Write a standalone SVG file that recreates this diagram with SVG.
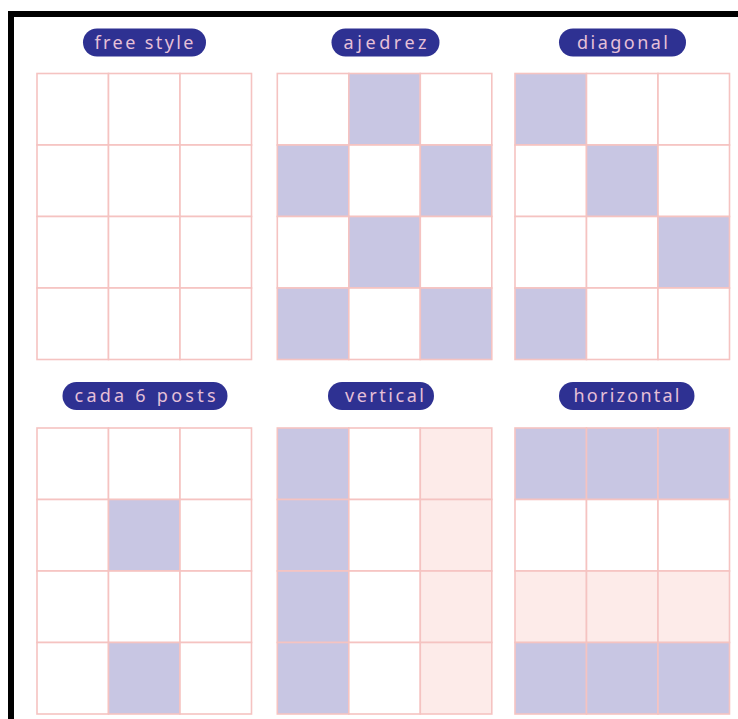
<svg xmlns="http://www.w3.org/2000/svg" width="738" height="719" viewBox="0 0 738 719">
<style>
.c{stroke:#f5c3c1;stroke-width:1.6}
.w{fill:#ffffff}
.l{fill:#c8c6e3}
.p{fill:#fdebe9}
.pill{fill:#2e3192}
.t{font-family:"Noto Sans","Open Sans",sans-serif;font-size:18px;fill:#e6c0d8;letter-spacing:1px}
</style>
<rect width="738" height="719" fill="#ffffff"/>
<g id="frame">
<rect x="8" y="11" width="730" height="6" fill="#000"/>
<rect x="8" y="11" width="6" height="708" fill="#000"/>
</g>
<g id="free-style">
<rect class="pill" x="83" y="28.5" width="123" height="28" rx="14"/>
<text class="t" x="144.5" y="48.5" text-anchor="middle" textLength="100" lengthAdjust="spacing">free style</text>
<g transform="translate(37,73.5)">
<rect class="c w" x="0" y="0" width="71.5" height="71.5"/><rect class="c w" x="71.5" y="0" width="71.5" height="71.5"/><rect class="c w" x="143" y="0" width="71.5" height="71.5"/>
<rect class="c w" x="0" y="71.5" width="71.5" height="71.5"/><rect class="c w" x="71.5" y="71.5" width="71.5" height="71.5"/><rect class="c w" x="143" y="71.5" width="71.5" height="71.5"/>
<rect class="c w" x="0" y="143" width="71.5" height="71.5"/><rect class="c w" x="71.5" y="143" width="71.5" height="71.5"/><rect class="c w" x="143" y="143" width="71.5" height="71.5"/>
<rect class="c w" x="0" y="214.5" width="71.5" height="71.5"/><rect class="c w" x="71.5" y="214.5" width="71.5" height="71.5"/><rect class="c w" x="143" y="214.5" width="71.5" height="71.5"/>
</g>
</g>
<g id="ajedrez">
<rect class="pill" x="331.5" y="28.5" width="108" height="28" rx="14"/>
<text class="t" x="385.5" y="48.5" text-anchor="middle" textLength="84" lengthAdjust="spacing">ajedrez</text>
<g transform="translate(277.3,73.5)">
<rect class="c w" x="0" y="0" width="71.5" height="71.5"/><rect class="c l" x="71.5" y="0" width="71.5" height="71.5"/><rect class="c w" x="143" y="0" width="71.5" height="71.5"/>
<rect class="c l" x="0" y="71.5" width="71.5" height="71.5"/><rect class="c w" x="71.5" y="71.5" width="71.5" height="71.5"/><rect class="c l" x="143" y="71.5" width="71.5" height="71.5"/>
<rect class="c w" x="0" y="143" width="71.5" height="71.5"/><rect class="c l" x="71.5" y="143" width="71.5" height="71.5"/><rect class="c w" x="143" y="143" width="71.5" height="71.5"/>
<rect class="c l" x="0" y="214.5" width="71.5" height="71.5"/><rect class="c w" x="71.5" y="214.5" width="71.5" height="71.5"/><rect class="c l" x="143" y="214.5" width="71.5" height="71.5"/>
</g>
</g>
<g id="diagonal">
<rect class="pill" x="559" y="28.5" width="127" height="28" rx="14"/>
<text class="t" x="623" y="48.5" text-anchor="middle" textLength="92" lengthAdjust="spacing">diagonal</text>
<g transform="translate(515,73.5)">
<rect class="c l" x="0" y="0" width="71.5" height="71.5"/><rect class="c w" x="71.5" y="0" width="71.5" height="71.5"/><rect class="c w" x="143" y="0" width="71.5" height="71.5"/>
<rect class="c w" x="0" y="71.5" width="71.5" height="71.5"/><rect class="c l" x="71.5" y="71.5" width="71.5" height="71.5"/><rect class="c w" x="143" y="71.5" width="71.5" height="71.5"/>
<rect class="c w" x="0" y="143" width="71.5" height="71.5"/><rect class="c w" x="71.5" y="143" width="71.5" height="71.5"/><rect class="c l" x="143" y="143" width="71.5" height="71.5"/>
<rect class="c l" x="0" y="214.5" width="71.5" height="71.5"/><rect class="c w" x="71.5" y="214.5" width="71.5" height="71.5"/><rect class="c w" x="143" y="214.5" width="71.5" height="71.5"/>
</g>
</g>
<g id="cada-6-posts">
<rect class="pill" x="62.5" y="382" width="165" height="28" rx="14"/>
<text class="t" x="145.5" y="402" text-anchor="middle" textLength="142" lengthAdjust="spacing">cada 6 posts</text>
<g transform="translate(37,428)">
<rect class="c w" x="0" y="0" width="71.5" height="71.5"/><rect class="c w" x="71.5" y="0" width="71.5" height="71.5"/><rect class="c w" x="143" y="0" width="71.5" height="71.5"/>
<rect class="c w" x="0" y="71.5" width="71.5" height="71.5"/><rect class="c l" x="71.5" y="71.5" width="71.5" height="71.5"/><rect class="c w" x="143" y="71.5" width="71.5" height="71.5"/>
<rect class="c w" x="0" y="143" width="71.5" height="71.5"/><rect class="c w" x="71.5" y="143" width="71.5" height="71.5"/><rect class="c w" x="143" y="143" width="71.5" height="71.5"/>
<rect class="c w" x="0" y="214.5" width="71.5" height="71.5"/><rect class="c l" x="71.5" y="214.5" width="71.5" height="71.5"/><rect class="c w" x="143" y="214.5" width="71.5" height="71.5"/>
</g>
</g>
<g id="vertical">
<rect class="pill" x="328" y="382" width="106" height="28" rx="14"/>
<text class="t" x="385" y="402" text-anchor="middle" textLength="80" lengthAdjust="spacing">vertical</text>
<g transform="translate(277.3,428)">
<rect class="c l" x="0" y="0" width="71.5" height="71.5"/><rect class="c w" x="71.5" y="0" width="71.5" height="71.5"/><rect class="c p" x="143" y="0" width="71.5" height="71.5"/>
<rect class="c l" x="0" y="71.5" width="71.5" height="71.5"/><rect class="c w" x="71.5" y="71.5" width="71.5" height="71.5"/><rect class="c p" x="143" y="71.5" width="71.5" height="71.5"/>
<rect class="c l" x="0" y="143" width="71.5" height="71.5"/><rect class="c w" x="71.5" y="143" width="71.5" height="71.5"/><rect class="c p" x="143" y="143" width="71.5" height="71.5"/>
<rect class="c l" x="0" y="214.5" width="71.5" height="71.5"/><rect class="c w" x="71.5" y="214.5" width="71.5" height="71.5"/><rect class="c p" x="143" y="214.5" width="71.5" height="71.5"/>
</g>
</g>
<g id="horizontal">
<rect class="pill" x="559" y="382" width="135.5" height="28" rx="14"/>
<text class="t" x="627" y="402" text-anchor="middle" textLength="107" lengthAdjust="spacing">horizontal</text>
<g transform="translate(515,428)">
<rect class="c l" x="0" y="0" width="71.5" height="71.5"/><rect class="c l" x="71.5" y="0" width="71.5" height="71.5"/><rect class="c l" x="143" y="0" width="71.5" height="71.5"/>
<rect class="c w" x="0" y="71.5" width="71.5" height="71.5"/><rect class="c w" x="71.5" y="71.5" width="71.5" height="71.5"/><rect class="c w" x="143" y="71.5" width="71.5" height="71.5"/>
<rect class="c p" x="0" y="143" width="71.5" height="71.5"/><rect class="c p" x="71.5" y="143" width="71.5" height="71.5"/><rect class="c p" x="143" y="143" width="71.5" height="71.5"/>
<rect class="c l" x="0" y="214.5" width="71.5" height="71.5"/><rect class="c l" x="71.5" y="214.5" width="71.5" height="71.5"/><rect class="c l" x="143" y="214.5" width="71.5" height="71.5"/>
</g>
</g>
</svg>
